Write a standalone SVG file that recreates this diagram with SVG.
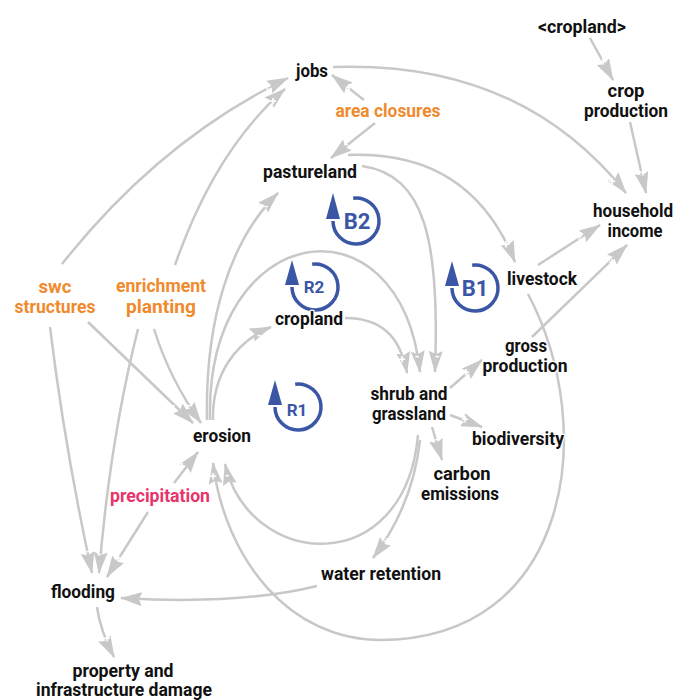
<svg xmlns="http://www.w3.org/2000/svg" width="678" height="700" viewBox="0 0 678 700">
<defs>
<style>
.n{font-family:Roboto,"Liberation Sans",sans-serif;font-weight:700;font-size:18px;fill:#111;text-anchor:middle;stroke:#fff;stroke-width:2.5;paint-order:stroke;stroke-linejoin:round}
.o{fill:#ef8a2d}
.p{fill:#e8336b}
.c{fill:none;stroke:#c8c8c8;stroke-width:2.5;marker-end:url(#ah)}
.s{font-family:Roboto,"Liberation Sans",sans-serif;font-weight:700;font-size:12px;fill:#fff;text-anchor:middle}
.la{fill:none;stroke:#3b56a5;stroke-width:3.5}
.lh{fill:#3b56a5}
.lt{font-family:Roboto,"Liberation Sans",sans-serif;font-weight:700;fill:#3b56a5;text-anchor:middle}
</style>
<marker id="ah" markerUnits="userSpaceOnUse" viewBox="0 0 22 14" refX="21" refY="7" markerWidth="22" markerHeight="14" orient="auto">
<path d="M0,0 L22,7 L0,14 L3,7 z" fill="#c8c8c8"/>
</marker>
</defs>
<g id="connectors">
<path class="c" d="M62 264 Q160 140 288 78"/>
<path class="c" d="M175 265 Q215 150 285 89"/>
<path class="c" d="M364 100 L332 75"/>
<path class="c" d="M375 123 L331 158"/>
<path class="c" d="M333 67 Q520 60 626 193"/>
<path class="c" d="M630 122 L646 193"/>
<path class="c" d="M590 38 L613 80"/>
<path class="c" d="M348 155 Q470 150 515 262"/>
<path class="c" d="M362 166 C425 175 440 240 435 372"/>
<path class="c" d="M538 265 L600 225"/>
<path class="c" d="M532 337 L627 245"/>
<path class="c" d="M207 420 C205 320 230 240 278 193"/>
<path class="c" d="M213 420 C212 375 235 342 271 327"/>
<path class="c" d="M210 420 C205 220 400 190 420 372"/>
<path class="c" d="M345 318 C380 318 400 335 407 373"/>
<path class="c" d="M450 388 L482 360"/>
<path class="c" d="M450 415 L482 427"/>
<path class="c" d="M432 427 L442 460"/>
<path class="c" d="M88 322 L193 423"/>
<path class="c" d="M154 329 Q170 380 201 423"/>
<path class="c" d="M174 483 L198 452"/>
<path class="c" d="M528 294 C600 430 570 640 380 640 C290 640 225 560 213 463"/>
<path class="c" d="M418 435 C405 580 250 570 225 464"/>
<path class="c" d="M420 440 Q413 505 373 558"/>
<path class="c" d="M317 586 Q240 605 121 598"/>
<path class="c" d="M50 327 Q65 450 92 573"/>
<path class="c" d="M138 329 Q110 440 99 573"/>
<path class="c" d="M148 512 L107 577"/>
<path class="c" d="M97 607 Q100 630 114 657"/>
<g id="signs">
<text class="s" x="267" y="91">+</text>
<text class="s" x="273" y="106">+</text>
<text class="s" x="349" y="92">+</text>
<text class="s" x="346" y="149">-</text>
<text class="s" x="612" y="186">+</text>
<text class="s" x="643" y="177">+</text>
<text class="s" x="603" y="66">+</text>
<text class="s" x="506" y="249">+</text>
<text class="s" x="437" y="361">-</text>
<text class="s" x="579" y="241">+</text>
<text class="s" x="612" y="267">+</text>
<text class="s" x="266" y="211">-</text>
<text class="s" x="259" y="340">-</text>
<text class="s" x="417" y="361">-</text>
<text class="s" x="402" y="364">+</text>
<text class="s" x="466" y="377">+</text>
<text class="s" x="465" y="424">+</text>
<text class="s" x="437" y="444">-</text>
<text class="s" x="173" y="410">-</text>
<text class="s" x="189" y="410">-</text>
<text class="s" x="182" y="471">+</text>
<text class="s" x="213" y="481">+</text>
<text class="s" x="227" y="480">-</text>
<text class="s" x="387" y="546">+</text>
<text class="s" x="142" y="601">-</text>
<text class="s" x="88" y="556">-</text>
<text class="s" x="99" y="559">-</text>
<text class="s" x="118" y="563">+</text>
<text class="s" x="107" y="643">+</text>
</g>
</g>
<g id="loop-B2">
<path class="la" d="M353.2 198.2 A23 23 0 1 1 333 221"/>
<path class="lh" d="M326 219 L333 193 L340 219 z"/>
<text class="lt" x="357" y="229" font-size="22">B2</text>
</g>
<g id="loop-R2">
<path class="la" d="M312.2 264.2 A23 23 0 1 1 292 287"/>
<path class="lh" d="M285 285 L292 260 L299 285 z"/>
<text class="lt" x="314" y="293" font-size="17">R2</text>
</g>
<g id="loop-B1">
<path class="la" d="M472.2 265.2 A23 23 0 1 1 452 288"/>
<path class="lh" d="M445 286 L452 261 L459 286 z"/>
<text class="lt" x="475" y="296" font-size="22">B1</text>
</g>
<g id="loop-R1">
<path class="la" d="M295.2 384.2 A23 23 0 1 1 275 407"/>
<path class="lh" d="M268 405 L275 380 L282 405 z"/>
<text class="lt" x="297" y="416" font-size="17">R1</text>
</g>
<g id="jobs"><text class="n" x="312" y="77" textLength="32" lengthAdjust="spacingAndGlyphs">jobs</text></g>
<g id="area-closures"><text class="n o" x="388" y="117" textLength="105" lengthAdjust="spacingAndGlyphs">area closures</text></g>
<g id="pastureland"><text class="n" x="310" y="178" textLength="94" lengthAdjust="spacingAndGlyphs">pastureland</text></g>
<g id="cropland-shadow"><text class="n" x="582" y="33" textLength="88" lengthAdjust="spacingAndGlyphs">&lt;cropland&gt;</text></g>
<g id="crop-production"><text class="n" x="626" y="97" textLength="37" lengthAdjust="spacingAndGlyphs">crop</text><text class="n" x="626" y="117" textLength="84" lengthAdjust="spacingAndGlyphs">production</text></g>
<g id="household-income"><text class="n" x="633" y="217" textLength="80" lengthAdjust="spacingAndGlyphs">household</text><text class="n" x="635" y="237" textLength="55" lengthAdjust="spacingAndGlyphs">income</text></g>
<g id="swc-structures"><text class="n o" x="55" y="293" textLength="33" lengthAdjust="spacingAndGlyphs">swc</text><text class="n o" x="55" y="313" textLength="81" lengthAdjust="spacingAndGlyphs">structures</text></g>
<g id="enrichment-planting"><text class="n o" x="161" y="292" textLength="90" lengthAdjust="spacingAndGlyphs">enrichment</text><text class="n o" x="161" y="313" textLength="70" lengthAdjust="spacingAndGlyphs">planting</text></g>
<g id="cropland"><text class="n" x="309" y="325" textLength="68" lengthAdjust="spacingAndGlyphs">cropland</text></g>
<g id="livestock"><text class="n" x="542" y="285" textLength="70" lengthAdjust="spacingAndGlyphs">livestock</text></g>
<g id="gross-production"><text class="n" x="526" y="352" textLength="42" lengthAdjust="spacingAndGlyphs">gross</text><text class="n" x="525" y="372" textLength="85" lengthAdjust="spacingAndGlyphs">production</text></g>
<g id="shrub-and-grassland"><text class="n" x="409" y="400" textLength="77" lengthAdjust="spacingAndGlyphs">shrub and</text><text class="n" x="409" y="420" textLength="74" lengthAdjust="spacingAndGlyphs">grassland</text></g>
<g id="erosion"><text class="n" x="222" y="442" textLength="58" lengthAdjust="spacingAndGlyphs">erosion</text></g>
<g id="biodiversity"><text class="n" x="518" y="445" textLength="92" lengthAdjust="spacingAndGlyphs">biodiversity</text></g>
<g id="carbon-emissions"><text class="n" x="462" y="480" textLength="57" lengthAdjust="spacingAndGlyphs">carbon</text><text class="n" x="460" y="500" textLength="78" lengthAdjust="spacingAndGlyphs">emissions</text></g>
<g id="precipitation"><text class="n p" x="160" y="502" textLength="100" lengthAdjust="spacingAndGlyphs">precipitation</text></g>
<g id="water-retention"><text class="n" x="381" y="580" textLength="120" lengthAdjust="spacingAndGlyphs">water retention</text></g>
<g id="flooding"><text class="n" x="83" y="598" textLength="64" lengthAdjust="spacingAndGlyphs">flooding</text></g>
<g id="property-damage"><text class="n" x="123" y="677" textLength="101" lengthAdjust="spacingAndGlyphs">property and</text><text class="n" x="124" y="696" textLength="176" lengthAdjust="spacingAndGlyphs">infrastructure damage</text></g>
</svg>
